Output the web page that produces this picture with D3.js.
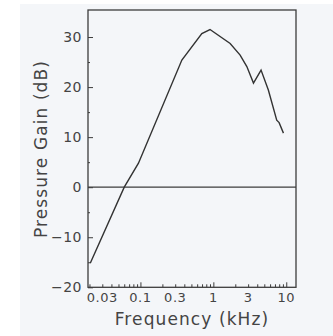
<!DOCTYPE html>
<html>
<head>
<meta charset="utf-8">
<script src="https://cdn.jsdelivr.net/npm/d3@7"></script>
<style>
  body { margin: 0; background: #fff; }
  text { font-family: "DejaVu Sans", sans-serif; fill: #444; }
</style>
</head>
<body>
<svg width="333" height="336"></svg>
<script>
// curve: frequency in kHz, gain in dB
var freq = [0.0205, 0.06, 0.094, 0.37, 0.695, 0.90, 1.70, 2.33, 2.88, 3.55, 4.51, 5.68, 7.4, 7.98, 9.15];
var gain = [-15.2, 0, 4.8, 25.4, 30.7, 31.5, 28.7, 26.4, 24.1, 20.8, 23.4, 19.4, 13.4, 12.9, 10.8];

var xTickVals = [0.03, 0.1, 0.3, 1, 3, 10];
var xTickLabels = ["0.03", "0.1", "0.3", "1", "3", "10"];
var yTickVals = [-20, -10, 0, 10, 20, 30];

var svg = d3.select("svg");

// scanned paper background
svg.append("rect").attr("x", 20).attr("y", 4).attr("width", 313).attr("height", 332)
  .attr("fill", "#f4f6f9");

var x = d3.scaleLog().domain([0.0191, 13.6]).range([88, 296]);
var y = d3.scaleLinear().domain([-20, 35.4]).range([287.3, 10]);

var ink = "#3c3c3c";

// minor x ticks (2..9 of each decade)
var minor = [];
[0.01, 0.1, 1].forEach(function(d) {
  for (var k = 2; k <= 9; k++) minor.push(d * k);
});
minor = minor.filter(function(v) { return v >= x.domain()[0] && v <= x.domain()[1]; });

var xAxis = svg.append("g").attr("transform", "translate(0," + y.range()[0] + ")");
xAxis.call(d3.axisBottom(x).tickValues(minor).tickSize(-3).tickFormat(""));
xAxis.append("g").call(d3.axisBottom(x).tickValues([0.1, 1, 10]).tickSize(-5).tickFormat(""));
xAxis.selectAll(".domain").remove();
xAxis.selectAll("line").attr("stroke", ink).attr("stroke-width", 1);

// x labels
svg.append("g").selectAll("text")
  .data(xTickVals)
  .enter().append("text")
  .attr("x", function(d) { return x(d); })
  .attr("y", 302)
  .attr("text-anchor", "middle")
  .style("font-size", "13px")
  .style("letter-spacing", "0.5px")
  .text(function(d, i) { return xTickLabels[i]; });

// y ticks
var yAxis = svg.append("g").attr("transform", "translate(" + x.range()[0] + ",0)");
yAxis.call(d3.axisRight(y).tickValues([-15, -5, 5, 15, 25]).tickSize(2).tickFormat(""));
yAxis.append("g").call(d3.axisRight(y).tickValues(yTickVals).tickSize(5).tickFormat(""));
yAxis.selectAll(".domain").remove();
yAxis.selectAll("line").attr("stroke", ink).attr("stroke-width", 1);

svg.append("g").selectAll("text")
  .data(yTickVals)
  .enter().append("text")
  .attr("x", 82)
  .attr("y", function(d) { return y(d) + 5; })
  .attr("text-anchor", "end")
  .style("font-size", "14px")
  .style("letter-spacing", "0.5px")
  .text(function(d) { return d < 0 ? "\u2212" + Math.abs(d) : d; });

// frame
svg.append("rect")
  .attr("x", x.range()[0]).attr("y", y.range()[1])
  .attr("width", x.range()[1] - x.range()[0])
  .attr("height", y.range()[0] - y.range()[1])
  .attr("fill", "none").attr("stroke", ink).attr("stroke-width", 1.3);

// zero line
svg.append("line")
  .attr("x1", x.range()[0]).attr("x2", x.range()[1])
  .attr("y1", y(0)).attr("y2", y(0))
  .attr("stroke", ink).attr("stroke-width", 1.2);

// curve
var pts = freq.map(function(f, i) { return [f, gain[i]]; });
svg.append("path")
  .datum(pts)
  .attr("fill", "none")
  .attr("stroke", "#333")
  .attr("stroke-width", 1.4)
  .attr("d", d3.line().x(function(d) { return x(d[0]); }).y(function(d) { return y(d[1]); }));

// axis titles
svg.append("text")
  .attr("x", 192).attr("y", 325)
  .attr("text-anchor", "middle")
  .style("font-size", "17px")
  .style("letter-spacing", "1.1px")
  .text("Frequency (kHz)");

svg.append("text")
  .attr("transform", "translate(47,149) rotate(-90)")
  .attr("text-anchor", "middle")
  .style("font-size", "17px")
  .style("letter-spacing", "1.1px")
  .text("Pressure Gain (dB)");
</script>
</body>
</html>
